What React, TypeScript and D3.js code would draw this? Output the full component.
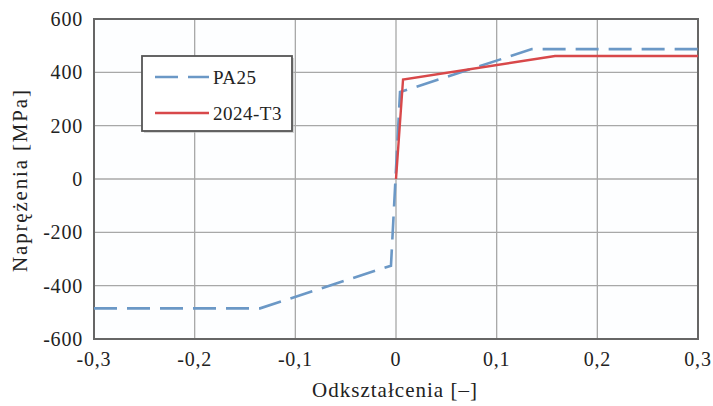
import React from "react";
import * as d3 from "d3";

const xTicks = [-0.3, -0.2, -0.1, 0, 0.1, 0.2, 0.3];
const yTicks = [-600, -400, -200, 0, 200, 400, 600];
const pa25X = [-0.3, -0.135, -0.005, 0.004, 0.135, 0.3];
const pa25Y = [-485, -485, -325, 326, 487, 487];
const t3X = [0, 0.007, 0.158, 0.3];
const t3Y = [0, 373, 461, 461];
const seriesNames = ["PA25", "2024-T3"];

const W = 713, H = 406;
const M = { left: 94, right: 698, top: 19, bottom: 339 };

export default function App() {
  const x = d3.scaleLinear().domain([-0.3, 0.3]).range([M.left, M.right]);
  const y = d3.scaleLinear().domain([-600, 600]).range([M.bottom, M.top]);
  const line = d3.line<[number, number]>().x(d => x(d[0])).y(d => y(d[1]));
  const pa = pa25X.map((v, i) => [v, pa25Y[i]] as [number, number]);
  const t3 = t3X.map((v, i) => [v, t3Y[i]] as [number, number]);
  const fmt = (v: number) => (v === 0 ? "0" : String(v).replace(".", ","));
  const font = "'Liberation Serif', 'DejaVu Serif', serif";
  const blue = "#6b98c6";
  const red = "#d8484a";
  return (
    <svg width={W} height={H} style={{ position: "absolute", left: 0, top: 0, background: "#fff" }} fontFamily={font}>
      <rect x={M.left} y={M.top} width={M.right - M.left} height={M.bottom - M.top} fill="#fdfeff" />
      {xTicks.map(t => (
        <line key={"gx" + t} x1={x(t)} x2={x(t)} y1={M.top} y2={M.bottom} stroke="#a8a8a8" strokeWidth={1.3} />
      ))}
      {yTicks.map(t => (
        <line key={"gy" + t} x1={M.left} x2={M.right} y1={y(t)} y2={y(t)} stroke="#a8a8a8" strokeWidth={1.3} />
      ))}
      <rect x={M.left} y={M.top} width={M.right - M.left} height={M.bottom - M.top} fill="none" stroke="#666" strokeWidth={2} />
      <path d={line(pa) || ""} fill="none" stroke={blue} strokeWidth={2.6} strokeDasharray="23,10" />
      <path d={line(t3) || ""} fill="none" stroke={red} strokeWidth={2.4} />
      {yTicks.map(t => (
        <text key={"ty" + t} x={M.left - 11} y={y(t)} dy="0.35em" textAnchor="end" fontSize={20} letterSpacing={0.8} fill="#222">{fmt(t)}</text>
      ))}
      {xTicks.map(t => (
        <text key={"tx" + t} x={x(t)} y={366} textAnchor="middle" fontSize={20} letterSpacing={0.8} fill="#222">{fmt(t)}</text>
      ))}
      <text x={312} y={397} textLength={165} lengthAdjust="spacing" fontSize={21} fill="#222">Odkształcenia [–]</text>
      <text transform={`translate(27,272) rotate(-90)`} textLength={182} lengthAdjust="spacing" fontSize={21} fill="#222">Naprężenia [MPa]</text>
      <g>
        <rect x={144} y={58} width={150} height={75} fill="#bbb" opacity={0.6} />
        <rect x={142} y={56} width={150} height={75} fill="#fff" stroke="#555" strokeWidth={1.8} />
        <line x1={155} x2={209} y1={77} y2={77} stroke={blue} strokeWidth={2.6} strokeDasharray="23,10" />
        <text x={213} y={77} dy="0.35em" fontSize={19} letterSpacing={0.5} fill="#222">{seriesNames[0]}</text>
        <line x1={155} x2={209} y1={113} y2={113} stroke={red} strokeWidth={2.4} />
        <text x={213} y={113} dy="0.35em" fontSize={19} letterSpacing={0.5} fill="#222">{seriesNames[1]}</text>
      </g>
    </svg>
  );
}
